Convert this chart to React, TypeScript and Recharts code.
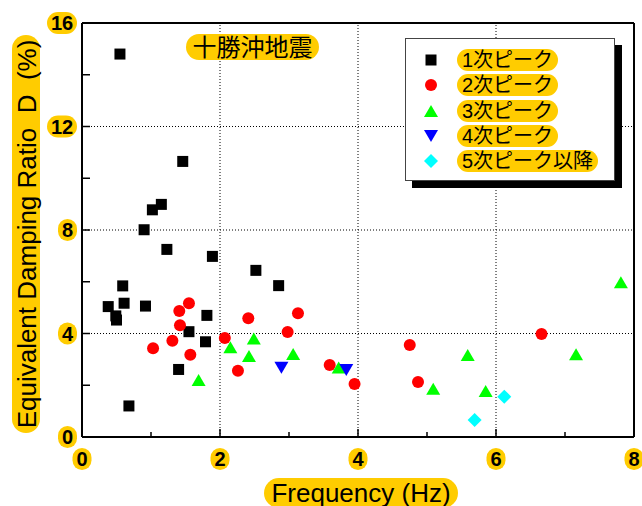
import React from 'react';
import { ScatterChart, Scatter, XAxis, YAxis, ReferenceLine, Label } from 'recharts';

const HIGHLIGHT = '#FFCC00';
const LATIN = '"Liberation Sans", Arial, sans-serif';
const CJK = '"Liberation Sans", "Noto Sans CJK JP", sans-serif';

const FREQ_TICKS = [0, 1, 2, 3, 4, 5, 6, 7, 8];
const DAMP_TICKS = [0, 2, 4, 6, 8, 10, 12, 14, 16];
const FREQ_GRID = [2, 4, 6];
const DAMP_GRID = [4, 8, 12];

const TITLE = '十勝沖地震';
const X_TITLE = 'Frequency (Hz)';
const Y_TITLE = 'Equivalent Damping Ratio  D  (%)';

// f = frequency (Hz), d = damping ratio (%)
const PEAK_1 = [
  { f: 0.55, d: 14.8 }, { f: 1.46, d: 10.65 }, { f: 1.02, d: 8.78 }, { f: 1.15, d: 8.99 },
  { f: 0.9, d: 8.01 }, { f: 1.23, d: 7.25 }, { f: 1.89, d: 6.98 }, { f: 2.52, d: 6.44 },
  { f: 2.85, d: 5.85 }, { f: 0.59, d: 5.84 }, { f: 0.38, d: 5.04 }, { f: 0.61, d: 5.17 },
  { f: 0.49, d: 4.68 }, { f: 0.5, d: 4.52 }, { f: 0.92, d: 5.06 }, { f: 1.81, d: 4.7 },
  { f: 1.55, d: 4.07 }, { f: 1.79, d: 3.68 }, { f: 1.4, d: 2.61 }, { f: 0.68, d: 1.2 },
];
const PEAK_2 = [
  { f: 1.03, d: 3.43 }, { f: 1.31, d: 3.72 }, { f: 1.41, d: 4.87 }, { f: 1.55, d: 5.17 },
  { f: 1.42, d: 4.32 }, { f: 1.57, d: 3.18 }, { f: 2.07, d: 3.83 }, { f: 2.41, d: 4.59 },
  { f: 2.26, d: 2.56 }, { f: 2.98, d: 4.06 }, { f: 3.13, d: 4.78 }, { f: 3.59, d: 2.78 },
  { f: 3.95, d: 2.05 }, { f: 4.75, d: 3.56 }, { f: 4.87, d: 2.13 }, { f: 6.66, d: 3.98 },
];
const PEAK_3 = [
  { f: 1.69, d: 2.2 }, { f: 2.15, d: 3.47 }, { f: 2.42, d: 3.13 }, { f: 2.49, d: 3.81 },
  { f: 3.06, d: 3.21 }, { f: 3.72, d: 2.69 }, { f: 5.09, d: 1.86 }, { f: 5.59, d: 3.17 },
  { f: 5.85, d: 1.78 }, { f: 7.16, d: 3.2 }, { f: 7.81, d: 5.98 },
];
const PEAK_4 = [{ f: 2.89, d: 2.68 }, { f: 3.83, d: 2.59 }];
const PEAK_5 = [{ f: 5.69, d: 0.66 }, { f: 6.12, d: 1.56 }];

const SERIES = [
  { name: '1次ピーク', data: PEAK_1, color: '#000000', marker: 'square' },
  { name: '2次ピーク', data: PEAK_2, color: '#FF0000', marker: 'circle' },
  { name: '3次ピーク', data: PEAK_3, color: '#00FF00', marker: 'up' },
  { name: '4次ピーク', data: PEAK_4, color: '#0000FF', marker: 'down' },
  { name: '5次ピーク以降', data: PEAK_5, color: '#00FFFF', marker: 'diamond' },
];

function Marker({ kind, cx, cy, color }: { kind: string; cx: number; cy: number; color: string }) {
  switch (kind) {
    case 'square':
      return <rect x={cx - 5.5} y={cy - 5.5} width={11} height={11} fill={color} />;
    case 'circle':
      return <circle cx={cx} cy={cy} r={6} fill={color} />;
    case 'up':
      return <polygon points={`${cx},${cy - 6} ${cx + 7},${cy + 6} ${cx - 7},${cy + 6}`} fill={color} />;
    case 'down':
      return <polygon points={`${cx - 7},${cy - 6} ${cx + 7},${cy - 6} ${cx},${cy + 6}`} fill={color} />;
    default:
      return <polygon points={`${cx},${cy - 7} ${cx + 7},${cy} ${cx},${cy + 7} ${cx - 7},${cy}`} fill={color} />;
  }
}

// yellow rounded highlight behind a bold number
function NumPill({ cx, cy, text }: { cx: number; cy: number; text: string }) {
  const w = text.length * 11 + 8;
  const h = 22;
  return (
    <g>
      <rect x={cx - w / 2} y={cy - h / 2} width={w} height={h} rx={Math.min(w / 2, 11)} fill={HIGHLIGHT} />
      <text x={cx} y={cy + 7.2} textAnchor="middle" fontFamily={LATIN} fontWeight="bold" fontSize={20} fill="#000">
        {text}
      </text>
    </g>
  );
}

const tickLen = (v: number) => (v % 2 === 0 ? 8 : 5);

function FreqTick(props: any, top: boolean) {
  const { x, y, payload } = props;
  const v = payload.value;
  const dir = top ? 1 : -1;
  return (
    <g>
      <line x1={x} y1={y} x2={x} y2={y + dir * tickLen(v)} stroke="#000" strokeWidth={1.5} />
      {!top && v % 2 === 0 && <NumPill cx={x} cy={y + 22} text={String(v)} />}
    </g>
  );
}

function DampTick(props: any, right: boolean) {
  const { x, y, payload } = props;
  const v = payload.value;
  const dir = right ? -1 : 1;
  const label = String(v);
  const w = label.length * 11 + 8;
  return (
    <g>
      <line x1={x} y1={y} x2={x + dir * tickLen(v)} y2={y} stroke="#000" strokeWidth={1.5} />
      {!right && v % 4 === 0 && <NumPill cx={x - 5 - w / 2} cy={y} text={label} />}
    </g>
  );
}

function XTitle() {
  return (
    <g>
      <rect x={264} y={478} width={194} height={30} rx={15} fill={HIGHLIGHT} />
      <text x={361} y={501.5} textAnchor="middle" fontFamily={LATIN} fontSize={26} fill="#000">
        {X_TITLE}
      </text>
    </g>
  );
}

function YTitle() {
  return (
    <g transform="translate(36,234) rotate(-90)">
      <rect x={-199} y={-24} width={398} height={28} rx={14} fill={HIGHLIGHT} />
      <text x={0} y={0} textAnchor="middle" fontFamily={LATIN} fontSize={26} fill="#000" style={{ whiteSpace: 'pre' }}>
        {Y_TITLE}
      </text>
    </g>
  );
}

function ChartTitle() {
  return (
    <g>
      <rect x={186} y={34} width={133} height={26} rx={13} fill={HIGHLIGHT} />
      <text x={252.5} y={56} textAnchor="middle" fontFamily={CJK} fontSize={24} fill="#000">
        {TITLE}
      </text>
    </g>
  );
}

function PeakLegend() {
  return (
    <div
      style={{
        position: 'absolute',
        left: 405,
        top: 38,
        width: 208,
        height: 141,
        border: '1px solid #444',
        background: '#fff',
        boxShadow: '7px 7px 0 #000',
      }}
    >
      {SERIES.map((s, i) => (
        <div key={s.name} style={{ position: 'absolute', left: 0, top: 10 + i * 25.3, height: 22, width: '100%' }}>
          <svg width={24} height={22} style={{ position: 'absolute', left: 13, top: 0 }}>
            <Marker kind={s.marker} cx={12} cy={11} color={s.color} />
          </svg>
          <span
            style={{
              position: 'absolute',
              left: 51,
              top: 0,
              height: 22,
              lineHeight: '22px',
              padding: '0 5px',
              borderRadius: 11,
              background: HIGHLIGHT,
              fontFamily: CJK,
              fontSize: 20,
              color: '#000',
              whiteSpace: 'nowrap',
            }}
          >
            {s.name}
          </span>
        </div>
      ))}
    </div>
  );
}

const frame = { stroke: '#000', strokeWidth: 2 };

export default function App() {
  return (
    <div style={{ position: 'absolute', left: 0, top: 0, width: 642, height: 506, overflow: 'hidden', background: '#fff' }}>
      <ScatterChart width={642} height={506} margin={{ top: 22, right: 7, bottom: 68, left: 81 }}>
        <XAxis
          xAxisId={0}
          type="number"
          dataKey="f"
          domain={[0, 8]}
          ticks={FREQ_TICKS}
          interval={0}
          height={1}
          tickSize={0}
          tickMargin={0}
          tickLine={false}
          axisLine={frame}
          tick={(p: any) => FreqTick(p, false)}
        >
          <Label content={() => <XTitle />} />
        </XAxis>
        <XAxis
          xAxisId="top"
          orientation="top"
          type="number"
          domain={[0, 8]}
          ticks={FREQ_TICKS}
          interval={0}
          height={1}
          tickSize={0}
          tickMargin={0}
          tickLine={false}
          axisLine={frame}
          tick={(p: any) => FreqTick(p, true)}
        >
          <Label content={() => <ChartTitle />} />
        </XAxis>
        <YAxis
          yAxisId={0}
          type="number"
          dataKey="d"
          domain={[0, 16]}
          ticks={DAMP_TICKS}
          interval={0}
          width={1}
          tickSize={0}
          tickMargin={0}
          tickLine={false}
          axisLine={frame}
          tick={(p: any) => DampTick(p, false)}
        >
          <Label content={() => <YTitle />} />
        </YAxis>
        <YAxis
          yAxisId="right"
          orientation="right"
          type="number"
          domain={[0, 16]}
          ticks={DAMP_TICKS}
          interval={0}
          width={1}
          tickSize={0}
          tickMargin={0}
          tickLine={false}
          axisLine={frame}
          tick={(p: any) => DampTick(p, true)}
        />
        {FREQ_GRID.map((v) => (
          <ReferenceLine key={`gx${v}`} x={v} stroke="#000" strokeWidth={1} strokeDasharray="1 2" />
        ))}
        {DAMP_GRID.map((v) => (
          <ReferenceLine key={`gy${v}`} y={v} stroke="#000" strokeWidth={1} strokeDasharray="1 2" />
        ))}
        {SERIES.map((s) => (
          <Scatter
            key={s.name}
            name={s.name}
            data={s.data}
            fill={s.color}
            isAnimationActive={false}
            shape={(p: any) => <Marker kind={s.marker} cx={p.cx} cy={p.cy} color={s.color} />}
          />
        ))}
      </ScatterChart>
      <PeakLegend />
    </div>
  );
}
